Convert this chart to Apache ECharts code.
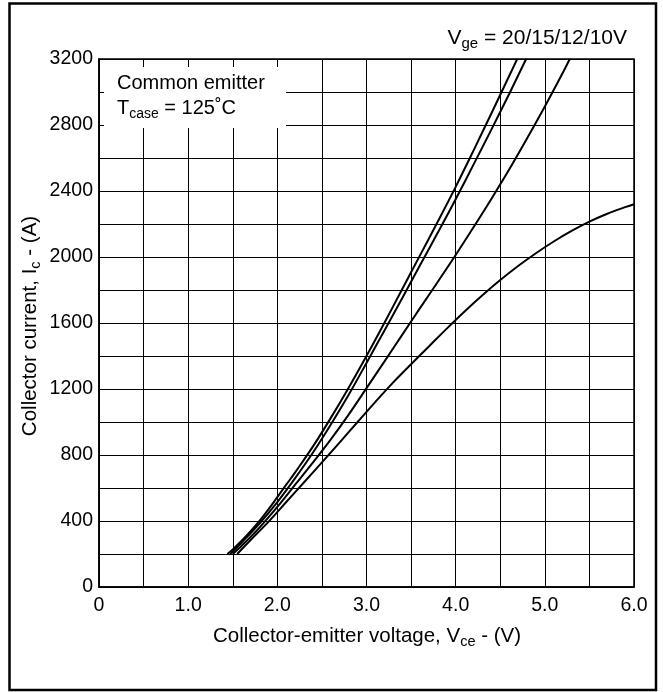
<!DOCTYPE html>
<html>
<head>
<meta charset="utf-8">
<script src="https://cdn.jsdelivr.net/npm/echarts@6/dist/echarts.min.js"></script>
<style>
html,body{margin:0;padding:0;background:#fff;}
#c{width:663px;height:692px;}
</style>
</head>
<body>
<div id="c"></div>
<script>
// Output characteristics, Ic vs Vce at Tcase = 125 C
const vge20 = [[1.44,200],[1.5,228],[1.6,280],[1.7,338],[1.8,400],[1.9,470],[2.0,545],[2.1,620],[2.2,695],[2.4,852],[2.6,1025],[2.8,1208],[3.0,1400],[3.2,1600],[3.4,1805],[3.6,2010],[3.8,2215],[4.0,2425],[4.2,2645],[4.4,2870],[4.6,3097],[4.69,3200]];
const vge15 = [[1.47,200],[1.6,270],[1.8,385],[2.0,515],[2.2,660],[2.4,815],[2.6,985],[2.8,1165],[3.0,1358],[3.2,1553],[3.4,1750],[3.6,1950],[3.8,2148],[4.0,2350],[4.2,2560],[4.4,2772],[4.6,2988],[4.79,3200]];
const vge12 = [[1.5,200],[1.6,250],[1.8,360],[2.0,485],[2.2,620],[2.4,755],[2.6,895],[2.8,1045],[3.0,1205],[3.2,1366],[3.4,1528],[3.6,1690],[3.8,1850],[4.0,2012],[4.2,2180],[4.4,2352],[4.6,2530],[4.8,2718],[5.0,2912],[5.2,3115],[5.28,3200]];
const vge10 = [[1.55,200],[1.7,285],[1.9,395],[2.1,515],[2.3,635],[2.5,755],[2.7,877],[2.9,1000],[3.1,1122],[3.3,1240],[3.5,1350],[3.7,1458],[3.9,1566],[4.1,1670],[4.3,1768],[4.5,1860],[4.7,1945],[4.9,2023],[5.1,2094],[5.3,2158],[5.5,2214],[5.7,2262],[5.9,2302],[6.0,2320]];
const xTickLabels = ['0','1.0','2.0','3.0','4.0','5.0','6.0'];
const yTickLabels = ['0','400','800','1200','1600','2000','2400','2800','3200'];

const FONT = 'Liberation Sans, Arial, sans-serif';
const chart = echarts.init(document.getElementById('c'), null, {renderer:'canvas'});
function mk(d){
  return {type:'line', data:d, smooth:0.35, showSymbol:false, symbol:'none',
    lineStyle:{color:'#000', width:2}, itemStyle:{color:'#000'}, z:5, animation:false};
}
function sub(main, s, tail, size, ssize){
  return {text:'{a|'+main+'}{s|'+s+'}{a|'+tail+'}',
    rich:{a:{fontSize:size, fontFamily:FONT, fill:'#000', lineHeight:Math.round(size*1.3), verticalAlign:'middle'},
          s:{fontSize:ssize, fontFamily:FONT, fill:'#000', lineHeight:ssize, verticalAlign:'bottom'}}};
}
const tCase = sub('T','case',' = 125˚C',20,14);
const vGe = sub('V','ge',' = 20/15/12/10V',21,15);
const xName = sub('Collector-emitter voltage, V','ce',' - (V)',20.5,14.5);
const yName = sub('Collector current, I','c',' - (A)',20.5,14.5);
chart.setOption({
  animation:false,
  backgroundColor:'#fff',
  grid:{left:99, right:29, top:59, bottom:105, show:true, borderColor:'#000', borderWidth:1.5, backgroundColor:'transparent'},
  xAxis:{type:'value', min:0, max:6, interval:0.5,
    axisLine:{show:true, lineStyle:{color:'#000', width:1.5}},
    axisTick:{show:false},
    axisLabel:{margin:9, color:'#000', fontSize:19.5, fontFamily:FONT,
      formatter:function(v){ const i = Math.round(v*2); return i%2===0 ? xTickLabels[i/2] : ''; }},
    splitLine:{show:true, lineStyle:{color:'#000', width:1}}},
  yAxis:{type:'value', min:0, max:3200, interval:200,
    axisLine:{show:true, lineStyle:{color:'#000', width:1.5}},
    axisTick:{show:false},
    axisLabel:{margin:6, color:'#000', fontSize:19.5, fontFamily:FONT,
      formatter:function(v){ const i = Math.round(v/200); return i%2===0 ? yTickLabels[i/2] : ''; }},
    splitLine:{show:true, lineStyle:{color:'#000', width:1}}},
  series:[mk(vge20), mk(vge15), mk(vge12), mk(vge10)],
  graphic:[
    {type:'rect', z:100, shape:{x:9.5, y:3.5, width:646.5, height:686.5}, style:{fill:'none', stroke:'#000', lineWidth:2.5}},
    {type:'rect', z:100, shape:{x:104, y:67, width:182, height:61}, style:{fill:'#fff', stroke:'none'}},
    {type:'text', z:101, x:117, y:83, style:{text:'Common emitter', fill:'#000', font:'20px '+FONT, align:'left', verticalAlign:'middle'}},
    {type:'text', z:101, x:117, y:108, style:Object.assign({align:'left', verticalAlign:'middle'}, tCase)},
    {type:'text', z:101, x:627, y:38, style:Object.assign({align:'right', verticalAlign:'middle'}, vGe)},
    {type:'text', z:101, x:367, y:636, style:Object.assign({align:'center', verticalAlign:'middle'}, xName)},
    {type:'text', z:101, x:30, y:326, rotation:Math.PI/2, style:Object.assign({align:'center', verticalAlign:'middle'}, yName)}
  ]
});
</script>
</body>
</html>
